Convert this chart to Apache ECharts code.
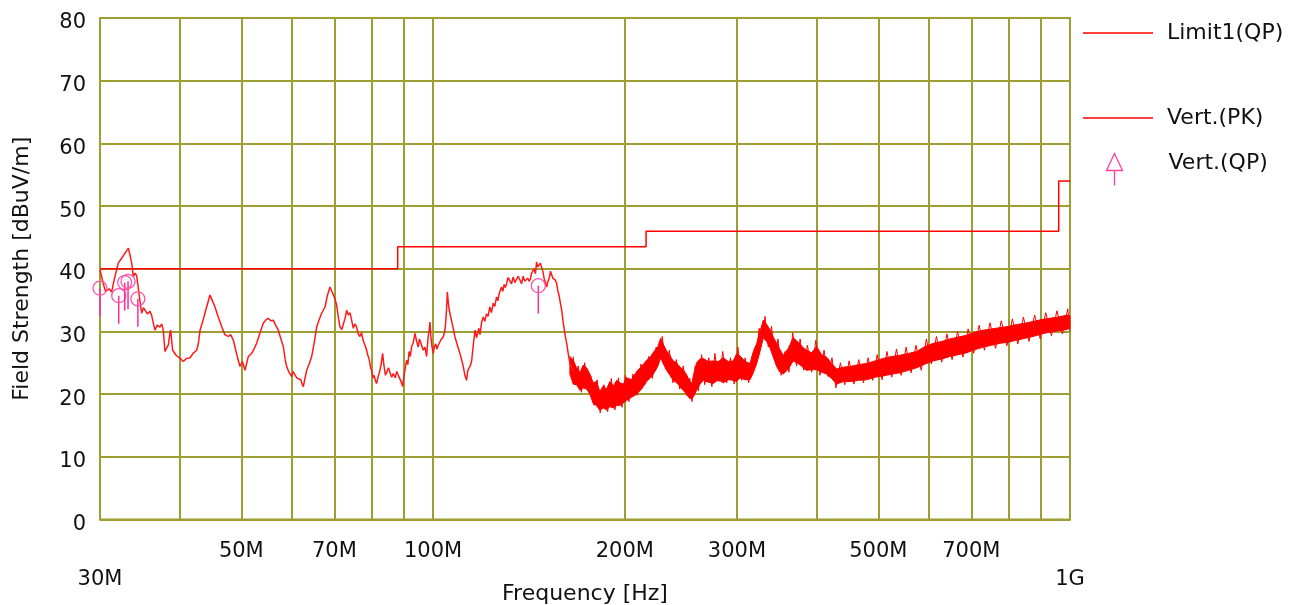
<!DOCTYPE html>
<html>
<head>
<meta charset="utf-8">
<script src="https://cdn.jsdelivr.net/npm/echarts@6/dist/echarts.min.js"></script>
<style>
html,body{margin:0;padding:0;background:#fff;}
#chart{width:1298px;height:605px;}
</style>
</head>
<body>
<div id="chart"></div>
<script>
// ---- data ----
const limitFreq  = [30, 88, 216, 960, 1000];
const limitLevel = [40, 43.5, 46, 54, 54];

// peak trace, low-frequency part [MHz, dBuV/m]
const pkTrace = [
[30.0,39.8],[30.2,38.6],[30.4,37.4],[30.6,36.4],[30.73,36.1],[31.0,36.8],[31.29,36.3],[31.6,38.4],[32.05,40.9],[32.4,41.6],[32.84,42.5],[33.24,43.3],[33.4,42.4],[33.64,40.9],[33.84,38.7],[34.05,39.3],[34.25,38.9],[34.45,37.0],[34.59,35.5],[34.88,32.9],[35.1,33.8],[35.3,33.4],[35.6,32.8],[35.94,33.2],[36.15,32.6],[36.37,32.3],[36.59,30.2],[36.9,31.0],[37.26,30.7],[37.5,31.2],[37.71,30.2],[37.94,26.8],[38.15,27.3],[38.4,27.8],[38.6,29.5],[38.73,30.2],[39.01,27.0],[39.5,26.2],[40.06,25.7],[40.55,25.2],[41.0,25.7],[41.54,25.8],[42.0,26.5],[42.55,27.0],[42.8,28.0],[43.07,30.2],[43.6,32.0],[44.11,33.9],[44.65,35.8],[45.0,35.0],[45.46,33.9],[46.0,32.3],[46.57,30.8],[47.1,29.5],[47.71,29.2],[48.1,29.5],[48.58,28.6],[49.0,27.0],[49.46,25.4],[49.76,24.4],[50.2,25.2],[50.67,23.8],[51.28,26.0],[52.0,26.6],[52.85,28.1],[53.5,29.8],[54.14,31.3],[54.6,31.8],[55.13,32.1],[55.6,31.7],[56.13,31.8],[56.6,31.0],[57.16,30.2],[57.7,28.8],[58.2,27.6],[58.6,25.5],[58.91,24.4],[59.4,23.5],[59.98,22.8],[60.3,23.6],[60.7,23.3],[61.1,22.6],[61.45,22.8],[62.0,22.3],[62.3,21.6],[62.57,21.2],[62.9,22.4],[63.32,23.8],[63.9,24.8],[64.48,26.0],[65.1,28.3],[65.66,30.7],[66.2,31.8],[66.85,32.9],[67.67,33.9],[68.2,35.6],[68.9,37.1],[69.3,36.5],[69.74,36.3],[70.1,35.3],[70.58,34.2],[71.0,32.3],[71.44,30.7],[71.9,30.3],[72.3,30.5],[72.8,32.2],[73.18,33.4],[73.6,32.6],[74.06,33.0],[74.5,31.8],[74.96,30.5],[75.4,31.2],[75.8,30.8],[76.3,29.6],[76.79,29.2],[77.2,29.8],[77.7,28.5],[78.2,27.8],[78.66,27.0],[79.0,26.2],[79.4,25.5],[79.8,24.2],[80.09,23.8],[80.5,22.6],[80.8,23.0],[81.2,22.1],[81.55,21.7],[82.0,22.8],[82.4,23.5],[82.9,24.8],[83.34,26.5],[83.6,25.2],[83.9,24.0],[84.2,23.0],[84.56,23.3],[85.1,24.2],[85.6,24.0],[86.1,22.7],[86.62,23.3],[87.2,22.6],[87.7,23.6],[88.2,23.0],[88.73,22.8],[89.1,22.0],[89.59,21.2],[89.9,22.4],[90.2,23.5],[90.89,25.4],[91.3,24.7],[91.7,26.8],[92.1,26.0],[92.55,27.6],[93.1,28.2],[93.67,29.7],[94.2,28.5],[94.81,27.5],[95.2,28.8],[95.6,28.5],[96.1,27.6],[96.54,27.0],[97.1,27.5],[97.71,26.0],[98.2,29.0],[98.6,30.2],[98.9,31.5],[99.2,29.3],[99.6,27.6],[100.1,26.5],[100.5,27.6],[101.0,28.0],[101.4,27.2],[101.9,27.8],[102.8,28.6],[103.8,29.2],[104.3,30.0],[104.6,31.0],[105.0,33.5],[105.3,36.3],[105.7,34.5],[106.0,33.5],[106.6,32.3],[107.4,30.8],[108.2,29.2],[109.2,27.8],[110.2,26.5],[110.8,25.6],[111.5,24.5],[112.2,23.0],[112.9,22.2],[113.4,23.8],[114.0,23.5],[114.5,24.6],[115.0,25.4],[115.7,28.0],[116.4,30.2],[117.0,29.0],[117.5,28.8],[118.0,30.5],[118.5,29.5],[119.2,31.5],[119.9,32.3],[120.6,31.6],[121.3,32.8],[122.0,32.4],[122.8,33.9],[123.5,33.0],[124.3,34.5],[125.0,34.0],[125.8,35.5],[126.4,34.9],[127.0,36.0],[127.5,35.8],[128.1,37.1],[128.7,36.4],[129.3,37.5],[129.9,37.0],[130.5,37.7],[131.2,38.6],[132.0,38.5],[132.8,37.6],[133.6,38.7],[134.4,37.8],[135.2,37.9],[136.0,38.8],[136.9,38.2],[137.7,37.6],[138.5,38.8],[139.3,38.0],[140.2,37.7],[140.8,38.5],[141.5,38.0],[142.2,38.4],[142.8,39.3],[143.5,39.0],[144.1,40.0],[144.8,39.2],[145.4,41.1],[146.0,40.3],[146.7,40.2],[147.4,40.9],[148.1,40.6],[148.8,39.5],[149.4,38.5],[150.1,37.8],[150.8,37.1],[151.5,38.0],[152.2,38.5],[152.9,39.6],[153.5,39.3],[154.2,38.5],[154.9,38.8],[155.6,38.2],[156.3,37.7],[157.0,36.5],[157.7,35.8],[158.4,34.6],[159.2,33.4],[159.9,31.8],[160.6,30.5],[161.3,29.2],[162.1,28.1],[163.0,26.5],[164.0,24.9],[165.0,24.2],[166.0,23.5]
];

// peak trace, noisy high-frequency part: envelope of the trace
const bandFreq = [164.0,166.0,168.0,170.1,172.0,174.2,176.3,178.4,180.5,182.8,185.0,187.2,189.5,192.0,194.2,196.5,199.0,201.3,205.0,208.7,212.5,216.4,219.5,223.0,225.5,227.6,230.0,232.6,235.5,238.3,241.2,244.2,247.0,250.1,252.4,254.7,257.0,259.3,262.5,265.6,270.5,275.4,280.5,285.5,290.8,296.0,299.5,303.3,308.9,314.5,318.3,322.2,326.1,330.0,334.0,338.0,342.1,346.3,350.5,354.7,361.2,367.7,372.2,376.7,381.3,385.9,393.0,400.1,407.4,414.8,422.4,430.1,440.7,451.3,465.4,479.6,494.4,509.2,525.0,540.9,557.7,574.5,592.2,610.0,628.9,647.8,668.0,688.2,709.5,730.9,753.5,776.2,800.3,824.5,850.0,875.5,902.7,930.0,958.9,987.9,1000];
const bandLow  = [23.2,21.6,21.5,20.6,21.0,20.8,20.0,18.5,18.2,17.4,17.8,17.5,18.0,17.8,18.2,18.2,18.6,19.0,19.5,20.0,20.8,22.0,22.6,23.6,24.5,25.8,24.8,23.8,23.0,22.2,21.8,21.2,20.6,20.0,19.4,19.2,19.8,20.6,21.6,22.2,21.9,21.7,22.3,21.8,22.3,22.2,22.0,22.6,22.3,22.3,23.4,24.9,26.8,29.0,28.4,27.4,25.9,24.4,23.5,23.2,24.0,25.3,25.0,24.7,24.2,23.8,23.9,23.9,23.5,23.2,22.5,21.6,22.0,22.0,22.2,22.3,22.7,22.9,23.2,23.4,23.8,24.2,24.8,25.3,25.6,26.0,26.3,26.6,27.1,27.5,27.8,28.1,28.3,28.6,28.9,29.2,29.6,29.9,30.1,30.3,30.5];
const bandHigh = [26.0,25.4,24.2,23.4,24.6,24.2,23.2,21.8,22.0,20.4,21.3,20.8,22.0,21.3,22.2,21.8,21.6,22.6,22.3,23.6,24.4,25.4,26.0,27.0,27.6,28.9,27.9,26.9,26.1,25.3,25.0,24.3,23.9,23.1,22.2,21.6,23.5,25.0,25.6,25.7,25.2,25.3,25.2,25.8,25.2,25.3,26.4,26.1,25.2,24.9,26.8,28.1,30.0,31.8,31.1,30.3,29.1,28.1,27.1,26.2,27.3,29.0,28.5,28.0,27.4,27.0,26.6,27.6,26.3,25.9,24.9,24.0,24.3,24.4,24.7,24.9,25.3,25.7,26.0,26.2,26.5,26.8,27.6,28.1,28.4,28.8,29.1,29.4,29.9,30.2,30.4,30.6,30.8,31.1,31.3,31.6,31.9,32.1,32.3,32.6,32.5];

// peak trace, noise excursions drawn over the envelope
const spikeFreq  = [166,167,169,171,173,175,177,179,181,183,185.5,188,190.5,193,195.5,198,200.5,203,206,209,212,215,218,221,224,227,229,232,235,238,241,244,247,250,253,255,258,261,264,267,271,274,277,281,285,289,293,297,301,305,309,313,317,321,325,329,332,336,340,344,348,352,357,362,367,372,377,382,387,393,399,405,411,417,423,429,436,443,450,458,466,474,482,490,498,507,516,525,534,543,553,563,573,584,595,606,617,629,641,653,666,679,692,706,720,734,749,764,780,796,812,828,845,862,880,898,916,935,954,973,992,1000];
const spikeLevel = [26.0,21.5,24.5,20.3,25.0,20.8,22.8,18.2,22.3,17.0,21.5,17.2,22.5,17.5,22.6,17.9,23.0,18.8,23.2,19.8,24.8,21.5,26.0,22.5,27.5,25.5,29.2,24.0,27.0,21.8,25.5,20.8,24.5,19.8,22.5,18.8,24.5,20.5,26.3,21.5,25.8,21.2,26.5,22.0,26.8,21.8,25.8,21.6,27.5,22.2,25.8,21.8,26.0,24.5,30.5,28.5,32.4,27.5,30.8,25.5,28.8,23.0,26.8,23.5,29.8,24.5,28.8,23.8,27.8,23.5,28.6,23.0,27.0,22.8,25.8,21.0,25.0,21.5,25.3,21.6,25.5,21.8,25.8,22.2,26.3,22.3,26.8,22.7,27.2,23.0,27.5,23.4,27.8,23.8,28.8,24.8,29.2,25.1,29.6,25.5,30.0,25.9,30.4,26.5,31.0,27.0,31.4,27.3,31.7,27.7,32.0,28.0,32.3,28.4,32.6,28.8,33.0,29.3,33.3,29.6,33.6,30.0];

// quasi-peak measurements
const qpFreq  = [30.0, 32.1, 32.8, 33.2, 34.4, 146.3];
const qpLevel = [36.9, 35.7, 37.8, 38.0, 35.2, 37.3];

// axis ticks
const gridFreqs   = [40, 50, 60, 70, 80, 90, 100, 200, 300, 400, 500, 600, 700, 800, 900];
const xLabelFreqs = [50, 70, 100, 200, 300, 500, 700];
const xEndFreqs   = [30, 1000];

// ---- chart ----
const OLIVE = '#9e9e33';
const RED = '#ff0000';
const FONT = '"DejaVu Sans", Verdana, sans-serif';
const fmt = v => v >= 1000 ? (v / 1000) + 'G' : v + 'M';

const chart = echarts.init(document.getElementById('chart'), null, {renderer: 'canvas'});

const limitData = limitFreq.map((f, i) => [f, limitLevel[i]]);
const bandData  = bandFreq.map((f, i) => [f, bandLow[i], bandHigh[i]]);
const spikeData = spikeFreq.map((f, i) => [f, spikeLevel[i]]);
const qpData    = qpFreq.map((f, i) => [f, qpLevel[i]]);

const legendText = {fontSize: 22, color: '#111', lineHeight: 24, padding: [0, 0, 0, 9], fontFamily: FONT};

chart.setOption({
  animation: false,
  backgroundColor: '#fff',
  textStyle: {fontFamily: FONT},
  grid: {left: 100, right: 228, top: 18, bottom: 85.5, show: true, borderColor: OLIVE, borderWidth: 2,
         containLabel: false, outerBoundsMode: 'none'},
  legend: [
    {data: [{name: 'Limit1(QP)', icon: 'rect'}], left: 1083, top: 21, padding: 0, itemWidth: 70, itemHeight: 1.5,
     textStyle: legendText},
    {data: [{name: 'Vert.(PK)', icon: 'rect'}], left: 1083, top: 106, padding: 0, itemWidth: 70, itemHeight: 1.5,
     textStyle: legendText},
    {data: [{name: 'Vert.(QP)', icon: 'path://M8,-12 M8,0 L16,17 L0,17 Z M8,17 L8,32',
             itemStyle: {color: 'none', borderColor: '#ff3d9e', borderWidth: 1.3}}],
     left: 1104, top: 139, padding: 0, itemWidth: 16, itemHeight: 44,
     textStyle: {fontSize: 22, color: '#111', lineHeight: 24, padding: [0, 0, 0, 41], fontFamily: FONT}}
  ],
  xAxis: [
    {type: 'log', logBase: 10, min: 30, max: 1000,
     axisLine: {show: false}, axisTick: {show: false}, splitLine: {show: false},
     axisLabel: {customValues: xLabelFreqs, formatter: fmt, margin: 22, fontSize: 21, color: '#111', fontFamily: FONT},
     name: 'Frequency [Hz]', nameLocation: 'middle', nameGap: 64,
     nameTextStyle: {fontSize: 22, color: '#111', fontFamily: FONT}},
    {type: 'log', logBase: 10, min: 30, max: 1000, position: 'bottom', gridIndex: 0,
     axisLine: {show: false}, axisTick: {show: false}, splitLine: {show: false},
     axisLabel: {customValues: xEndFreqs, formatter: fmt, margin: 50, fontSize: 21, color: '#111', fontFamily: FONT}}
  ],
  yAxis: {
    type: 'value', min: 0, max: 80, interval: 10,
    axisLine: {show: false}, axisTick: {show: false},
    splitLine: {show: true, lineStyle: {color: OLIVE, width: 2}},
    axisLabel: {margin: 14, formatter: '{v|{value}}',
      rich: {v: {fontSize: 21, color: '#111', fontFamily: FONT, lineHeight: 24, padding: [10, 0, 0, 0]}}},
    name: 'Field Strength [dBuV/m]', nameLocation: 'middle', nameGap: 67, nameRotate: 90,
    nameTextStyle: {fontSize: 22, color: '#111', fontFamily: FONT}
  },
  series: [
    {name: 'grid', type: 'line', data: [], z: 1, silent: true,
     markLine: {silent: true, z: 1, symbol: ['none', 'none'], label: {show: false},
       lineStyle: {type: 'solid', color: OLIVE, width: 2},
       data: gridFreqs.map(f => ({xAxis: f}))}},
    {name: 'Vert.(PK)', type: 'line', data: pkTrace, z: 3, symbol: 'none', showSymbol: false,
     lineStyle: {color: '#ff1a1a', width: 1.5}, itemStyle: {color: RED}},
    {name: 'Vert.(PK)', type: 'custom', z: 3, data: bandData, encode: {x: 0, y: [1, 2]},
     itemStyle: {color: RED},
     renderItem: function (params, api) {
       if (params.dataIndexInside !== 0) return null;
       const n = params.dataInsideLength;
       const top = [], bot = [];
       for (let i = 0; i < n; i++) {
         const f = api.value(0, i);
         top.push(api.coord([f, api.value(2, i)]));
         bot.push(api.coord([f, api.value(1, i)]));
       }
       return {type: 'polygon', shape: {points: top.concat(bot.reverse())},
               style: {fill: RED, stroke: RED, lineWidth: 1}};
     }},
    {name: 'Vert.(PK)', type: 'line', data: spikeData, z: 3, symbol: 'none', showSymbol: false,
     lineStyle: {color: RED, width: 1}, itemStyle: {color: RED}},
    {name: 'Limit1(QP)', type: 'line', step: 'end', data: limitData, z: 4, symbol: 'none',
     lineStyle: {color: RED, width: 1.5}, itemStyle: {color: RED}},
    {name: 'Vert.(QP)', type: 'custom', z: 5, data: qpData, clip: false,
     itemStyle: {color: '#ff3d9e'},
     renderItem: function (params, api) {
       const p = api.coord([api.value(0), api.value(1)]);
       return {type: 'group', children: [
         {type: 'line', shape: {x1: p[0], y1: p[1], x2: p[0], y2: p[1] + 28},
          style: {stroke: '#ff2f96', lineWidth: 1.5}},
         {type: 'circle', shape: {cx: p[0], cy: p[1], r: 7},
          style: {fill: 'none', stroke: '#ff52a8', lineWidth: 1.3}}
       ]};
     }}
  ]
});
</script>
</body>
</html>
